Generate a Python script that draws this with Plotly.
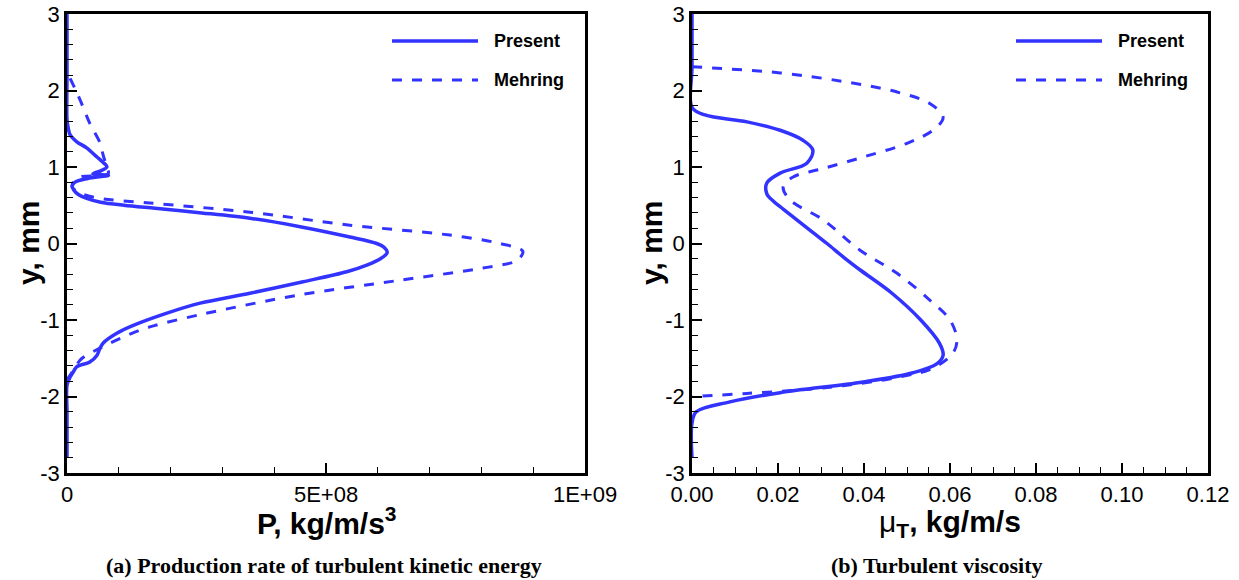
import plotly.graph_objects as go

# ---- Production rate of turbulent kinetic energy, P [kg/m/s^3] vs y [mm] ----
prod_present_y = [-2.8, -2.2, -1.85, -1.745, -1.68, -1.61, -1.55, -1.46, -1.38, -1.30,
                  -1.17, -1.07, -0.91, -0.78, -0.65, -0.50, -0.37, -0.28, -0.20, -0.12,
                  -0.05, 0.0, 0.085, 0.22, 0.33, 0.40, 0.46, 0.50, 0.54, 0.59,
                  0.64, 0.70, 0.75, 0.80, 0.85, 0.89, 0.91, 0.95, 1.0, 1.07,
                  1.13, 1.25, 1.33, 1.42, 1.52, 1.62, 2.2, 3.0]
prod_present_P = [0, 0, 0, 6e6, 1.2e7, 1.9e7, 4.4e7, 5.8e7, 6.3e7, 7.0e7,
                  9.7e7, 1.28e8, 1.93e8, 2.57e8, 3.53e8, 4.56e8, 5.4e8, 5.8e8, 6.05e8, 6.18e8,
                  6.12e8, 5.98e8, 5.46e8, 4.5e8, 3.53e8, 2.6e8, 1.7e8, 1.1e8, 6.5e7, 3.8e7,
                  2.2e7, 1.3e7, 1.0e7, 1.5e7, 4.0e7, 8.0e7, 5.0e7, 6.5e7, 7.7e7, 6.8e7,
                  5.8e7, 3.8e7, 1.9e7, 6e6, 2e6, 0, 0, 0]

prod_mehring_y = [2.16, 1.88, 1.57, 1.31, 1.15, 1.0, 0.92, 0.89, 0.87, 0.80,
                  0.74, 0.66, 0.59, 0.53, 0.41, 0.24, 0.11, 0.0, -0.10, -0.22,
                  -0.32, -0.48, -0.67, -0.93, -1.09, -1.20, -1.38, -1.50, -1.58, -1.68,
                  -1.78]
prod_mehring_P = [6e6, 2.5e7, 4.4e7, 6.4e7, 7.0e7, 7.7e7, 8.0e7, 7.0e7, 2.5e7, 1.2e7,
                  1.0e7, 2.5e7, 6.4e7, 1.6e8, 3.53e8, 5.46e8, 7.39e8, 8.36e8, 8.8e8, 8.69e8,
                  8.03e8, 6.43e8, 4.5e8, 2.57e8, 1.6e8, 1.16e8, 6.0e7, 2.9e7, 1.9e7, 1.0e7,
                  0]

# ---- Turbulent viscosity, mu_T [kg/m/s] vs y [mm] ----
visc_present_y = [3.0, 2.3, 1.78, 1.68, 1.59, 1.48, 1.35, 1.22, 1.05, 0.92,
                  0.79, 0.65, 0.55, 0.45, 0.30, 0.15, 0.0, -0.19, -0.35, -0.65,
                  -1.0, -1.3, -1.46, -1.57, -1.69, -1.81, -1.95, -2.07, -2.2, -2.35,
                  -2.8]
visc_present_mu = [0, 0, 0, 0.003, 0.0128, 0.0205, 0.0258, 0.0281, 0.0267, 0.0205,
                   0.0174, 0.0174, 0.0190, 0.0212, 0.0246, 0.0280, 0.0314, 0.0355, 0.0392, 0.0465,
                   0.0532, 0.0575, 0.0584, 0.057, 0.0514, 0.0398, 0.0205, 0.0088, 0.001, 0,
                   0]

visc_mehring_y = [2.31, 2.23, 2.11, 1.98, 1.83, 1.65, 1.48, 1.31, 1.13, 0.98,
                  0.87, 0.74, 0.57, 0.31, -0.085, -0.39, -0.74, -1.0, -1.26, -1.43,
                  -1.63, -1.75, -1.88, -1.96, -2.0]
visc_mehring_mu = [0, 0.0205, 0.036, 0.0477, 0.0553, 0.0584, 0.056, 0.05, 0.0398, 0.0305,
                   0.0235, 0.0212, 0.0228, 0.0305, 0.039, 0.0477, 0.0553, 0.06, 0.0616, 0.0607,
                   0.056, 0.0477, 0.032, 0.0128, 0]

series_names = ["Present", "Mehring"]
y_ticks = [-3, -2, -1, 0, 1, 2, 3]
y_tick_text = ["-3", "-2", "-1", "0", "1", "2", "3"]
p_ticks = [0, 5e8, 1e9]
p_tick_text = ["0", "5E+08", "1E+09"]
mu_ticks = [0.0, 0.02, 0.04, 0.06, 0.08, 0.10, 0.12]
mu_tick_text = ["0.00", "0.02", "0.04", "0.06", "0.08", "0.10", "0.12"]

W, H = 1239, 580
BLUE = "#3333ff"
FONT = "Liberation Sans, Arial, Helvetica, sans-serif"
SERIF = "Liberation Serif, Times New Roman, serif"

# plot-area pixel geometry
TOP, BOTTOM = 14, 473
LEFT_A, RIGHT_A = 67, 585
LEFT_B, RIGHT_B = 692, 1208


def px(x):
    return x / W


def py(y):
    # paper y for a pixel row (paper 0..1 spans the plot area)
    return (BOTTOM - y) / (BOTTOM - TOP)


fig = go.Figure()

solid = dict(color=BLUE, width=3.5)
dashed = dict(color=BLUE, width=3, dash="10px,10px")

fig.add_trace(go.Scatter(x=prod_present_P, y=prod_present_y, mode="lines", name=series_names[0],
                         line=dict(**solid, shape="spline", smoothing=0.9),
                         xaxis="x", yaxis="y", showlegend=False))
fig.add_trace(go.Scatter(x=prod_mehring_P, y=prod_mehring_y, mode="lines", name=series_names[1],
                         line=dict(**dashed, shape="spline", smoothing=0.9),
                         xaxis="x", yaxis="y", showlegend=False))
fig.add_trace(go.Scatter(x=visc_present_mu, y=visc_present_y, mode="lines", name=series_names[0],
                         line=dict(**solid, shape="spline", smoothing=1.0),
                         xaxis="x2", yaxis="y2", showlegend=False))
fig.add_trace(go.Scatter(x=visc_mehring_mu, y=visc_mehring_y, mode="lines", name=series_names[1],
                         line=dict(**dashed, shape="spline", smoothing=1.0),
                         xaxis="x2", yaxis="y2", showlegend=False))

axis_common = dict(
    automargin=False,
    showgrid=False, zeroline=False, showline=True, linecolor="black", linewidth=2.5,
    mirror=True, ticks="inside", ticklen=10, tickwidth=1.5, tickcolor="black",
    tickfont=dict(family=FONT, size=22, color="black"),
)
minor_common = dict(ticks="inside", ticklen=6, tickwidth=1, tickcolor="black")

fig.update_layout(
    width=W, height=H,
    margin=dict(l=0, r=0, t=TOP, b=H - BOTTOM, autoexpand=False),
    paper_bgcolor="white", plot_bgcolor="white",
    showlegend=False,
    xaxis=dict(domain=[px(LEFT_A), px(RIGHT_A)], range=[0, 1e9], anchor="y",
               tickvals=p_ticks, ticktext=p_tick_text,
               minor=dict(dtick=1e8, tick0=0, **minor_common),
               **axis_common),
    yaxis=dict(domain=[0, 1], range=[-3, 3], anchor="x",
               tickvals=y_ticks, ticktext=y_tick_text,
               minor=dict(dtick=0.2, tick0=0, **minor_common),
               **axis_common),
    xaxis2=dict(domain=[px(LEFT_B), px(RIGHT_B)], range=[0, 0.12], anchor="y2",
                tickvals=mu_ticks, ticktext=mu_tick_text,
                minor=dict(dtick=0.005, tick0=0, **minor_common),
                **axis_common),
    yaxis2=dict(domain=[0, 1], range=[-3, 3], anchor="x2",
                tickvals=y_ticks, ticktext=y_tick_text,
                minor=dict(dtick=0.2, tick0=0, **minor_common),
                **axis_common),
)

annotations = []
shapes = []

# axis titles
title_font = dict(family=FONT, size=30, color="black")
for cx in (28, 651):
    annotations.append(dict(text="<b>y, mm</b>", x=px(cx), y=py(243), xref="paper", yref="paper",
                            textangle=-90, showarrow=False, font=title_font,
                            xanchor="center", yanchor="middle"))
annotations.append(dict(text="<b>P, kg/m/s<sup>3</sup></b>", x=px(327), y=py(521),
                        xref="paper", yref="paper", showarrow=False, font=title_font,
                        xanchor="center", yanchor="middle"))
annotations.append(dict(text="μ<sub><b>T</b></sub><b>, kg/m/s</b>", x=px(950), y=py(523),
                        xref="paper", yref="paper", showarrow=False, font=title_font,
                        xanchor="center", yanchor="middle"))

# panel captions
cap_font = dict(family=SERIF, size=22, color="black")
annotations.append(dict(text="<b>(a) Production rate of turbulent kinetic energy</b>",
                        x=px(324), y=py(565), xref="paper", yref="paper", showarrow=False,
                        font=cap_font, xanchor="center", yanchor="middle"))
annotations.append(dict(text="<b>(b) Turbulent viscosity</b>",
                        x=px(937), y=py(565), xref="paper", yref="paper", showarrow=False,
                        font=cap_font, xanchor="center", yanchor="middle"))

# legend keys inside each panel
leg_font = dict(family=FONT, size=18, color="black")
for x0 in (392, 1016):
    for row, (name, style) in enumerate(zip(series_names, (solid, dashed))):
        yy = 41 + row * 39
        shapes.append(dict(type="line", xref="paper", yref="paper",
                           x0=px(x0), x1=px(x0 + 86), y0=py(yy), y1=py(yy),
                           line=style))
        annotations.append(dict(text=f"<b>{name}</b>", x=px(x0 + 100), y=py(yy),
                                xref="paper", yref="paper", showarrow=False, font=leg_font,
                                xanchor="left", yanchor="middle"))

fig.update_layout(annotations=annotations, shapes=shapes)

fig.write_html("out.html")
